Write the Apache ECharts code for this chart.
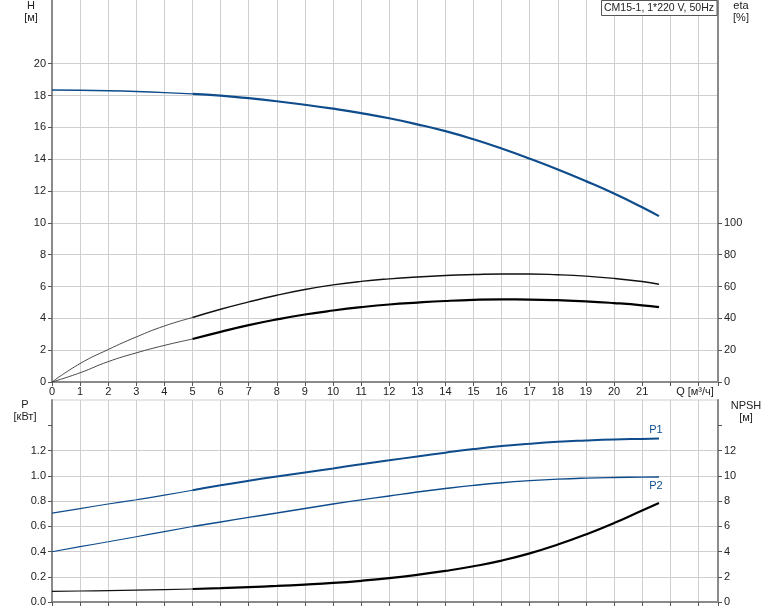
<!DOCTYPE html>
<html><head><meta charset="utf-8">
<script src="https://cdn.jsdelivr.net/npm/echarts@6/dist/echarts.min.js"></script>
<style>html,body{margin:0;padding:0;background:#fff}#c{width:774px;height:611px}</style>
</head><body><div id="c"></div>
<script>
// ---- data ----
const Q      = [0,1,2,3,4,5,6,7,8,9,10,11,12,13,14,15,16,17,18,19,20,21,21.6];
const H      = [18.35,18.33,18.3,18.25,18.18,18.1,17.99,17.83,17.64,17.42,17.17,16.89,16.57,16.19,15.76,15.25,14.67,14.03,13.35,12.62,11.84,10.98,10.42];
const etaA   = [0,11.6,20.4,28.3,35.2,40.5,45.7,50.3,54.5,58.1,61,63.2,64.8,66,66.9,67.5,67.9,67.9,67.4,66.5,65.1,63.1,61.4];
const etaB   = [0,5.8,12.8,18.3,23,27,31.5,35.7,39.3,42.4,44.9,47,48.7,49.9,50.9,51.6,51.9,51.8,51.4,50.7,49.6,48.2,47.0];
const P1     = [0.704,0.74,0.776,0.81,0.846,0.885,0.924,0.96,0.994,1.026,1.058,1.091,1.122,1.153,1.183,1.211,1.235,1.254,1.269,1.279,1.287,1.292,1.295];
const P2     = [0.398,0.438,0.477,0.517,0.557,0.598,0.634,0.67,0.705,0.741,0.776,0.809,0.84,0.871,0.899,0.924,0.945,0.961,0.973,0.981,0.986,0.989,0.99];
const NPSH   = [0.84,0.87,0.9,0.94,0.98,1.03,1.1,1.18,1.27,1.38,1.51,1.68,1.89,2.15,2.46,2.83,3.28,3.85,4.55,5.35,6.25,7.25,7.84];
const qLabels   = [0,1,2,3,4,5,6,7,8,9,10,11,12,13,14,15,16,17,18,19,20,21];
const hLabels   = [0,2,4,6,8,10,12,14,16,18,20];
const etaLabels = [0,20,40,60,80,100];
const pLabels   = [0,0.2,0.4,0.6,0.8,1.0,1.2];
const pTicks    = [0,0.2,0.4,0.6,0.8,1.0,1.2,1.4];
const npshLabels= [0,2,4,6,8,10,12];
const npshTicks = [0,2,4,6,8,10,12,14];
const title = 'CM15-1, 1*220 V, 50Hz';

const BLUE = '#0f4c8c';
const FONT = '"Liberation Sans", Arial, sans-serif';
const pts = arr => Q.map((q,i)=>[q,arr[i]]);
const thin = arr => pts(arr).filter(p=>p[0]<=5);
const thick = arr => pts(arr).filter(p=>p[0]>=5);

const lbl = {color:'#222', fontSize:11, fontFamily:FONT};
const axLine = {show:true, lineStyle:{color:'#8a8a8a', width:2}};
const grid = {lineStyle:{color:'#cfcfcf', width:1}};

function line(name, data, xi, yi, color, w, extra){
  return Object.assign({name, type:'line', xAxisIndex:xi, yAxisIndex:yi, data, smooth:true,
    showSymbol:false, symbol:'none', silent:true, lineStyle:{color, width:w}, z:5}, extra||{});
}

const chart = echarts.init(document.getElementById('c'), null, {renderer:'canvas'});
chart.setOption({
  animation:false,
  textStyle:{fontFamily:FONT},
  grid:[
    {left:52, right:56, top:0, height:382},
    {left:52, right:56, top:400, height:202, show:true, borderColor:'#cfcfcf', borderWidth:1},
    {left:52, right:56, top:450.5, height:151.5}
  ],
  xAxis:[
    {type:'value', gridIndex:0, min:0, max:23.7, interval:1, axisLine:axLine,
     axisTick:{show:true, length:4, lineStyle:{color:'#555'}},
     axisLabel:Object.assign({customValues:qLabels, margin:4}, lbl), splitLine:Object.assign({show:true},grid)},
    {type:'value', gridIndex:1, min:0, max:23.7, interval:1, axisLine:axLine,
     axisTick:{show:true, length:4, lineStyle:{color:'#555'}},
     axisLabel:{show:false}, splitLine:Object.assign({show:true},grid)},
    {type:'value', gridIndex:2, min:0, max:23.7, show:false, splitLine:{show:false}}
  ],
  yAxis:[
    {type:'value', gridIndex:0, min:0, max:24, interval:2, axisLine:axLine,
     axisTick:{show:true, length:4, customValues:hLabels, lineStyle:{color:'#555'}},
     axisLabel:Object.assign({customValues:hLabels, margin:6}, lbl), splitLine:Object.assign({show:true},grid)},
    {type:'value', gridIndex:0, min:0, max:240, interval:20, position:'right', axisLine:axLine,
     axisTick:{show:true, length:4, customValues:etaLabels, lineStyle:{color:'#555'}},
     axisLabel:Object.assign({customValues:etaLabels, margin:6}, lbl), splitLine:{show:false}},
    {type:'value', gridIndex:1, min:0, max:1.6, interval:0.2, axisLine:axLine,
     axisTick:{show:true, length:4, customValues:pTicks, lineStyle:{color:'#555'}},
     axisLabel:Object.assign({customValues:pLabels, margin:6, formatter:v=>v.toFixed(1)}, lbl), splitLine:{show:false}},
    {type:'value', gridIndex:1, min:0, max:16, interval:2, position:'right', axisLine:axLine,
     axisTick:{show:true, length:4, customValues:npshTicks, lineStyle:{color:'#555'}},
     axisLabel:Object.assign({customValues:npshLabels, margin:6}, lbl), splitLine:{show:false}},
    {type:'value', gridIndex:2, min:0, max:1.2, interval:0.2, axisLine:{show:false}, axisTick:{show:false},
     axisLabel:{show:false}, splitLine:Object.assign({show:true},grid)}
  ],
  series:[
    line('H thin', thin(H), 0,0, BLUE, 1.4),
    line('H', thick(H), 0,0, BLUE, 2.2),
    line('etaA thin', thin(etaA), 0,1, '#333', 0.9),
    line('etaA', thick(etaA), 0,1, '#111', 1.4),
    line('etaB thin', thin(etaB), 0,1, '#333', 0.9),
    line('etaB', thick(etaB), 0,1, '#000', 2.2),
    line('P1 thin', thin(P1), 1,2, BLUE, 1.2),
    line('P1', thick(P1), 1,2, BLUE, 2, {markPoint:{symbol:'circle', symbolSize:1, itemStyle:{color:'rgba(0,0,0,0)'},
      data:[{coord:[Q[Q.length-1], P1[P1.length-1]], value:'P1'}],
      label:{show:true, position:'top', distance:3, offset:[-3,0], formatter:'P1', color:BLUE, fontSize:11, fontFamily:FONT}}}),
    line('P2 thin', thin(P2), 1,2, BLUE, 1.2),
    line('P2', thick(P2), 1,2, BLUE, 1.4, {markPoint:{symbol:'circle', symbolSize:1, itemStyle:{color:'rgba(0,0,0,0)'},
      data:[{coord:[Q[Q.length-1], P2[P2.length-1]], value:'P2'}],
      label:{show:true, position:'bottom', distance:3, offset:[-3,0], formatter:'P2', color:BLUE, fontSize:11, fontFamily:FONT}}}),
    line('NPSH thin', thin(NPSH), 1,3, '#111', 1.2),
    line('NPSH', thick(NPSH), 1,3, '#000', 2.2)
  ],
  graphic:[
    {type:'rect', shape:{x:601.5, y:0.5, width:115.5, height:15}, style:{fill:'#fff', stroke:'#555', lineWidth:1}, z:100},
    {type:'text', x:659, y:8.5, style:{text:title, fill:'#222', font:'10.5px '+FONT, textAlign:'center', textVerticalAlign:'middle'}, z:101},
    {type:'text', x:31, y:6, style:{text:'H', fill:'#222', font:'11px '+FONT, textAlign:'center', textVerticalAlign:'middle'}},
    {type:'text', x:31, y:18, style:{text:'[м]', fill:'#222', font:'11px '+FONT, textAlign:'center', textVerticalAlign:'middle'}},
    {type:'text', x:741, y:6, style:{text:'eta', fill:'#222', font:'11px '+FONT, textAlign:'center', textVerticalAlign:'middle'}},
    {type:'text', x:741, y:18, style:{text:'[%]', fill:'#222', font:'11px '+FONT, textAlign:'center', textVerticalAlign:'middle'}},
    {type:'text', x:25, y:405, style:{text:'P', fill:'#222', font:'11px '+FONT, textAlign:'center', textVerticalAlign:'middle'}},
    {type:'text', x:25, y:417, style:{text:'[кВт]', fill:'#222', font:'11px '+FONT, textAlign:'center', textVerticalAlign:'middle'}},
    {type:'text', x:746, y:406, style:{text:'NPSH', fill:'#222', font:'11px '+FONT, textAlign:'center', textVerticalAlign:'middle'}},
    {type:'text', x:746, y:418, style:{text:'[м]', fill:'#222', font:'11px '+FONT, textAlign:'center', textVerticalAlign:'middle'}},
    {type:'text', x:695, y:392, style:{text:'Q [м³/ч]', fill:'#222', font:'11px '+FONT, textAlign:'center', textVerticalAlign:'middle'}}
  ]
});
</script></body></html>
